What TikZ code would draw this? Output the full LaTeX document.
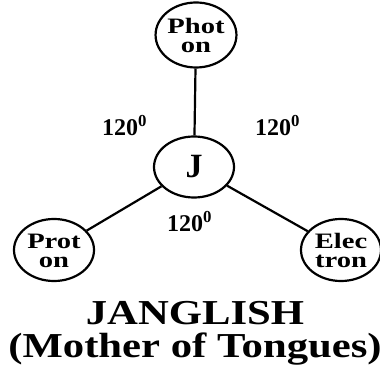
\documentclass[tikz,border=0pt]{standalone}
\usepackage{fontspec}
\setmainfont{Liberation Serif}
\usepackage{graphicx}
\usetikzlibrary{shapes.geometric}

% widen a two line label
\newcommand{\twoline}[2]{\raisebox{-3pt}[\height][\depth]{\scalebox{1.3}[1]{\begin{tabular}{@{}c@{}}#1\\[2pt]#2\end{tabular}}}}

\tikzset{
  particle/.style={ellipse, draw, line width=2.2pt, minimum width=80pt, minimum height=62pt, inner sep=0pt, font=\bfseries\fontsize{22}{17}\selectfont},
  core/.style={particle, minimum width=80pt, minimum height=61pt, font=\bfseries\fontsize{34}{34}\selectfont},
  anglelabel/.style={anchor=base west, inner sep=0pt, font=\bfseries\fontsize{24}{24}\selectfont},
  bond/.style={line width=2.2pt},
  titletext/.style={inner sep=0pt, xscale=1.22, align=center, font=\bfseries\fontsize{35}{33}\selectfont}
}

\begin{document}
\begin{tikzpicture}[x=1pt, y=-1pt]
\useasboundingbox (0,0) rectangle (380,374);
\node[core] (J) at (194,167) {J};
\node[particle, minimum height=65pt] (photon) at (196,35) {\twoline{Phot}{on}};
\node[particle] (proton) at (54,250) {\twoline{Prot}{on}};
\node[particle] (electron) at (341,250) {\twoline{Elec}{tron}};
\draw[bond] (J) -- (photon);
\draw[bond] (J) -- (proton);
\draw[bond] (J) -- (electron);
\node[anglelabel] (a1) at (102,136) {120\textsuperscript{0}};
\node[anglelabel] (a2) at (255,136) {120\textsuperscript{0}};
\node[anglelabel] (a3) at (167,232) {120\textsuperscript{0}};
\node[titletext] (title) at (195,333) {JANGLISH\\(Mother of Tongues)};
\end{tikzpicture}
\end{document}
